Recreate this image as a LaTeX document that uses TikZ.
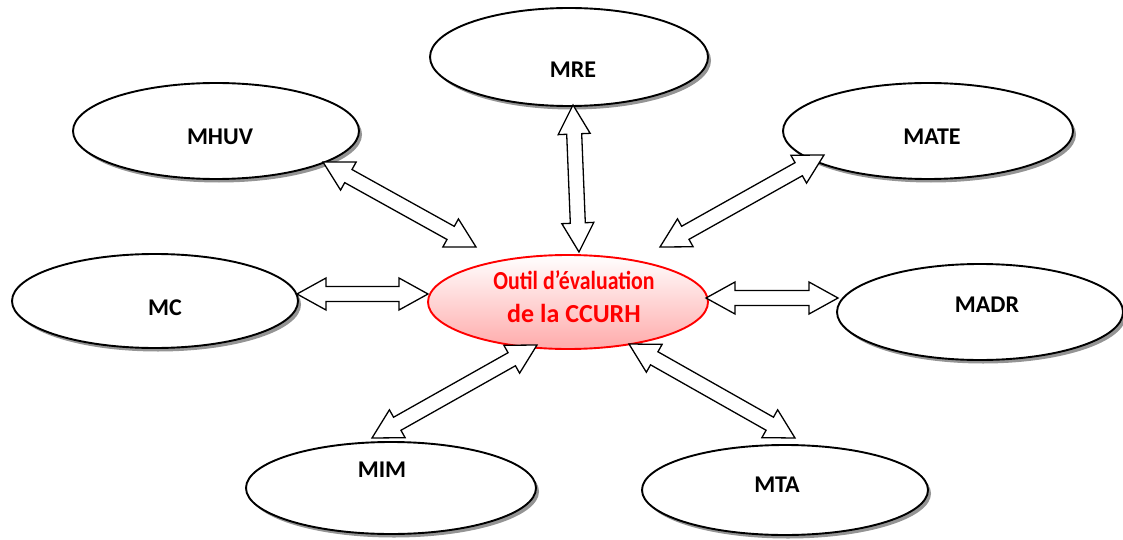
\documentclass[tikz,border=0pt]{standalone}
\usepackage{fontspec}
\usepackage{graphicx}
\setmainfont{Carlito}
\usetikzlibrary{calc,shapes.geometric,shadows}
\definecolor{pinkfill}{RGB}{255,170,170}
\tikzset{
  ell/.style={ellipse, draw=black, line width=1.9pt, fill=white, inner sep=0pt, outer sep=0pt,
    drop shadow={shadow xshift=3pt, shadow yshift=-3.5pt, fill=black!70, opacity=.6}},
  lbl/.style={font=\fontsize{24}{28}\selectfont\bfseries, inner sep=0pt, text=black},
  ctr/.style={ellipse, draw=red, line width=1.9pt, top color=white, bottom color=pinkfill, inner sep=0pt, outer sep=0pt},
  ctext/.style={font=\fontsize{26}{33}\selectfont\bfseries, text=red, align=center, inner sep=0pt},
  blockarrow/.style={draw=black, line width=1.3pt, fill=white},
}
\newcommand\dblarr[2]{%
 \draw[blockarrow] (#1)
  -- ($(#1)!29pt!(#2)!16pt!90:(#2)$)
  -- ($(#1)!29pt!(#2)!7.5pt!90:(#2)$)
  -- ($(#2)!29pt!(#1)!7.5pt!-90:(#1)$)
  -- ($(#2)!29pt!(#1)!16pt!-90:(#1)$)
  -- (#2)
  -- ($(#2)!29pt!(#1)!16pt!90:(#1)$)
  -- ($(#2)!29pt!(#1)!7.5pt!90:(#1)$)
  -- ($(#1)!29pt!(#2)!7.5pt!-90:(#2)$)
  -- ($(#1)!29pt!(#2)!16pt!-90:(#2)$)
  -- cycle;}
\begin{document}
\begin{tikzpicture}[x=1pt,y=-1pt]
\useasboundingbox (0,0) rectangle (1123,540);
% outer ellipses
\node[ell, minimum width=278pt, minimum height=98pt, label={[lbl, xshift=4pt, yshift=-13pt]center:MRE}] (mre) at (569,57) {};
\node[ell, minimum width=286pt, minimum height=96pt, label={[lbl, xshift=4pt, yshift=-6pt]center:MHUV}] (mhuv) at (216,131) {};
\node[ell, minimum width=290pt, minimum height=96pt, label={[lbl, xshift=4pt, yshift=-6pt]center:MATE}] (mate) at (928,131) {};
\node[ell, minimum width=286pt, minimum height=94pt, label={[lbl, xshift=10pt, yshift=-7pt]center:MC}] (mc) at (155,301) {};
\node[ell, minimum width=286pt, minimum height=96pt, label={[lbl, xshift=7pt, yshift=7pt]center:MADR}] (madr) at (980,312) {};
\node[ell, minimum width=290pt, minimum height=92pt, label={[lbl, xshift=-9pt, yshift=18pt]center:MIM}] (mim) at (391,488) {};
\node[ell, minimum width=286pt, minimum height=90pt, label={[lbl, xshift=-8pt, yshift=5pt]center:MTA}] (mta) at (785,490) {};
% central ellipse
\node[ctr, minimum width=280pt, minimum height=94pt,
  label={[ctext, xshift=6pt, yshift=5pt]center:{\scalebox{0.84}[1]{Outil d’évaluation}\\de la CCURH}}] (cc) at (568,302) {};
% arrow ends
\coordinate (a1) at ($(mhuv)+(107,31)$);  \coordinate (b1) at ($(cc)+(-92,-55)$);
\coordinate (a2) at ($(mre)+(4,48)$);     \coordinate (b2) at ($(cc)+(11,-50)$);
\coordinate (a3) at ($(mate)+(-104,24)$); \coordinate (b3) at ($(cc)+(92,-55)$);
\coordinate (a4) at ($(mc)+(142,-7)$);    \coordinate (b4) at ($(cc)+(-140,-8)$);
\coordinate (a5) at ($(cc)+(138,-4)$);    \coordinate (b5) at ($(madr)+(-142,-14)$);
\coordinate (a6) at ($(cc)+(-31,43)$);    \coordinate (b6) at ($(mim)+(-19,-50)$);
\coordinate (a7) at ($(cc)+(61,42)$);     \coordinate (b7) at ($(mta)+(10,-52)$);
\dblarr{a1}{b1}
\dblarr{a2}{b2}
\dblarr{a3}{b3}
\dblarr{a4}{b4}
\dblarr{a5}{b5}
\dblarr{a6}{b6}
\dblarr{a7}{b7}
\end{tikzpicture}
\end{document}
